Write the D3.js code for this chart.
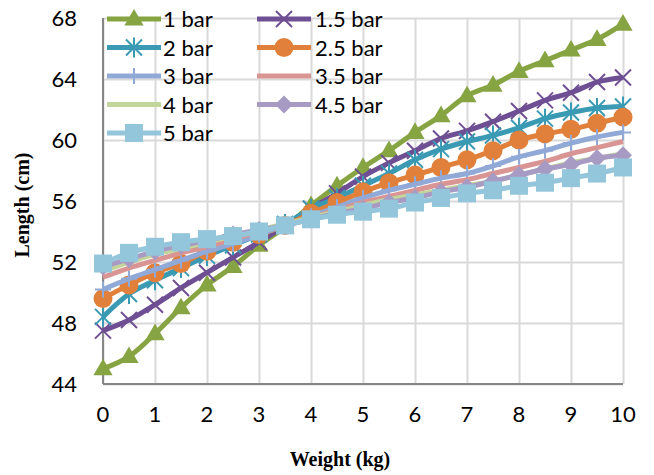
<!DOCTYPE html>
<html>
<head>
<meta charset="utf-8">
<script src="https://cdn.jsdelivr.net/npm/d3@7"></script>
<style>
  body { margin: 0; background: #fff; }
  svg { display: block; }
</style>
</head>
<body>
<svg id="chart"></svg>
<script>
"use strict";

// weights (kg), 0 to 10 step 0.5
var weights = [0, 0.5, 1, 1.5, 2, 2.5, 3, 3.5, 4, 4.5, 5, 5.5, 6, 6.5, 7, 7.5, 8, 8.5, 9, 9.5, 10];

var bar1   = [45.0, 45.8, 47.3, 49.0, 50.5, 51.7, 53.1, 54.3, 55.7, 57.0, 58.2, 59.3, 60.5, 61.6, 62.9, 63.6, 64.5, 65.2, 65.9, 66.6, 67.6];
var bar1_5 = [47.5, 48.2, 49.2, 50.3, 51.3, 52.3, 53.3, 54.4, 55.5, 56.5, 57.6, 58.5, 59.3, 60.1, 60.6, 61.2, 61.9, 62.6, 63.1, 63.8, 64.1];
var bar2   = [48.4, 49.9, 50.8, 51.6, 52.4, 53.1, 53.8, 54.5, 55.5, 56.2, 57.0, 57.8, 58.7, 59.4, 59.9, 60.3, 60.8, 61.4, 61.8, 62.1, 62.2];
var bar2_5 = [49.6, 50.5, 51.3, 51.9, 52.7, 53.3, 53.8, 54.4, 55.2, 55.9, 56.6, 57.2, 57.7, 58.2, 58.7, 59.3, 60.0, 60.4, 60.7, 61.1, 61.5];
var bar3   = [50.2, 50.9, 51.5, 52.1, 52.7, 53.2, 53.8, 54.4, 55.0, 55.6, 56.2, 56.7, 57.1, 57.5, 57.8, 58.3, 58.9, 59.3, 59.8, 60.2, 60.5];
var bar3_5 = [51.0, 51.6, 52.1, 52.6, 53.0, 53.5, 54.0, 54.4, 54.9, 55.4, 55.9, 56.3, 56.7, 57.1, 57.4, 57.8, 58.2, 58.6, 59.1, 59.5, 59.9];
var bar4   = [51.4, 52.0, 52.5, 52.9, 53.3, 53.7, 54.1, 54.5, 54.9, 55.3, 55.7, 56.1, 56.4, 56.7, 57.0, 57.3, 57.7, 58.1, 58.5, 58.8, 59.1];
var bar4_5 = [51.7, 52.2, 52.7, 53.1, 53.4, 53.8, 54.1, 54.4, 54.8, 55.2, 55.5, 55.9, 56.2, 56.6, 56.9, 57.3, 57.7, 58.1, 58.4, 58.8, 59.0];
var bar5   = [51.9, 52.6, 53.0, 53.3, 53.5, 53.7, 54.0, 54.4, 54.8, 55.1, 55.3, 55.5, 55.9, 56.2, 56.5, 56.7, 57.0, 57.2, 57.5, 57.8, 58.2];

var seriesNames = ["1 bar", "1.5 bar", "2 bar", "2.5 bar", "3 bar", "3.5 bar", "4 bar", "4.5 bar", "5 bar"];
var seriesValues = [bar1, bar1_5, bar2, bar2_5, bar3, bar3_5, bar4, bar4_5, bar5];
var seriesColors = ["#87A443", "#6E4F93", "#3A9AB4", "#E0803A", "#91A9D6", "#D99594", "#C2D69C", "#A89BC3", "#93C6DA"];
var seriesMarkers = ["triangle", "x", "asterisk", "circle", "plus", "none", "none", "diamond", "square"];

var xTicks = [0, 1, 2, 3, 4, 5, 6, 7, 8, 9, 10];
var yTicks = [44, 48, 52, 56, 60, 64, 68];

var width = 654, height = 475;
var margin = { left: 103, right: 31, top: 18, bottom: 91 };

var svg = d3.select("#chart")
    .attr("width", width)
    .attr("height", height);

var xScale = d3.scaleLinear().domain([0, 10]).range([margin.left, width - margin.right]);
var yScale = d3.scaleLinear().domain([44, 68]).range([height - margin.bottom, margin.top]);

var tickFont = "Lato, 'Open Sans', sans-serif";

// gridlines
svg.append("g")
    .attr("transform", "translate(0," + (height - margin.bottom) + ")")
    .call(d3.axisBottom(xScale).tickValues(xTicks).tickSize(-(height - margin.bottom - margin.top)).tickFormat(""))
    .call(g => g.select(".domain").remove())
    .call(g => g.selectAll("line").attr("stroke", "#d9d9d9").attr("stroke-width", 2));

svg.append("g")
    .attr("transform", "translate(" + margin.left + ",0)")
    .call(d3.axisLeft(yScale).tickValues(yTicks).tickSize(-(width - margin.right - margin.left)).tickFormat(""))
    .call(g => g.select(".domain").remove())
    .call(g => g.selectAll("line").attr("stroke", "#d9d9d9").attr("stroke-width", 2));

// axis lines
svg.append("line")
    .attr("x1", margin.left).attr("x2", margin.left)
    .attr("y1", margin.top).attr("y2", height - margin.bottom)
    .attr("stroke", "#868686").attr("stroke-width", 2);
svg.append("line")
    .attr("x1", margin.left).attr("x2", width - margin.right)
    .attr("y1", height - margin.bottom).attr("y2", height - margin.bottom)
    .attr("stroke", "#868686").attr("stroke-width", 2);

// tick labels
svg.append("g").selectAll("text")
    .data(xTicks)
    .enter()
    .append("text")
    .attr("x", d => xScale(d))
    .attr("y", height - margin.bottom + 38)
    .attr("text-anchor", "middle")
    .style("font-family", tickFont)
    .style("font-size", "22px")
    .style("fill", "#000")
    .text(d => d);

svg.append("g").selectAll("text")
    .data(yTicks)
    .enter()
    .append("text")
    .attr("x", margin.left - 26)
    .attr("y", d => yScale(d) + 8)
    .attr("text-anchor", "end")
    .style("font-family", tickFont)
    .style("font-size", "22px")
    .style("fill", "#000")
    .text(d => d);

// axis titles
svg.append("text")
    .attr("x", 340)
    .attr("y", 466)
    .attr("text-anchor", "middle")
    .style("font-family", "'Liberation Serif', 'DejaVu Serif', serif")
    .style("font-weight", "bold")
    .style("font-size", "20px")
    .text("Weight (kg)");

svg.append("text")
    .attr("transform", "translate(29,205) rotate(-90)")
    .attr("text-anchor", "middle")
    .style("font-family", "'Liberation Serif', 'DejaVu Serif', serif")
    .style("font-weight", "bold")
    .style("font-size", "20px")
    .text("Length (cm)");

// marker drawing
function drawMarker(g, type, color) {
    if (type == "triangle") {
        g.append("path").attr("d", d3.symbol(d3.symbolTriangle, 160)()).attr("fill", color)
            .attr("transform", "translate(0,1)");
    } else if (type == "circle") {
        g.append("circle").attr("r", 9.5).attr("fill", color);
    } else if (type == "square") {
        g.append("rect").attr("x", -9).attr("y", -9).attr("width", 18).attr("height", 18).attr("fill", color);
    } else if (type == "diamond") {
        g.append("path").attr("d", "M0,-9L9,0L0,9L-9,0Z").attr("fill", color);
    } else if (type == "x") {
        g.append("path").attr("d", "M-8,-8L8,8M-8,8L8,-8").attr("stroke", color).attr("stroke-width", 2).attr("fill", "none");
    } else if (type == "asterisk") {
        g.append("path").attr("d", "M-8,-8L8,8M-8,8L8,-8M0,-10L0,10").attr("stroke", color).attr("stroke-width", 2).attr("fill", "none");
    } else if (type == "plus") {
        g.append("path").attr("d", "M0,-8L0,8M-8,0L8,0").attr("stroke", color).attr("stroke-width", 2).attr("fill", "none");
    }
}

var line = d3.line()
    .x(d => xScale(d[0]))
    .y(d => yScale(d[1]))
    .curve(d3.curveCatmullRom.alpha(0.5));

var plot = svg.append("g");

seriesValues.forEach(function (vals, i) {
    var pts = weights.map((w, j) => [w, vals[j]]);
    var sg = plot.append("g");
    sg.append("path")
        .datum(pts)
        .attr("d", line)
        .attr("fill", "none")
        .attr("stroke", seriesColors[i])
        .attr("stroke-width", 5)
        .attr("stroke-linejoin", "round");
    sg.selectAll("g.m")
        .data(pts)
        .enter()
        .append("g")
        .attr("class", "m")
        .attr("transform", d => "translate(" + xScale(d[0]) + "," + yScale(d[1]) + ")")
        .each(function () { drawMarker(d3.select(this), seriesMarkers[i], seriesColors[i]); });
});

// legend, two columns
var legend = svg.append("g");
seriesNames.forEach(function (name, i) {
    var col = i % 2;
    var row = Math.floor(i / 2);
    var x0 = col == 0 ? 107 : 257;
    var y0 = 19 + row * 28.5;
    var lg = legend.append("g").attr("transform", "translate(" + x0 + "," + y0 + ")");
    lg.append("line")
        .attr("x1", 0).attr("x2", 54)
        .attr("stroke", seriesColors[i])
        .attr("stroke-width", 5);
    var mg = lg.append("g").attr("transform", "translate(27,0)");
    drawMarker(mg, seriesMarkers[i], seriesColors[i]);
    lg.append("text")
        .attr("x", col == 0 ? 56 : 58)
        .attr("y", 8)
        .style("font-family", tickFont)
        .style("font-size", "22px")
        .style("fill", "#000")
        .text(name);
});
</script>
</body>
</html>
